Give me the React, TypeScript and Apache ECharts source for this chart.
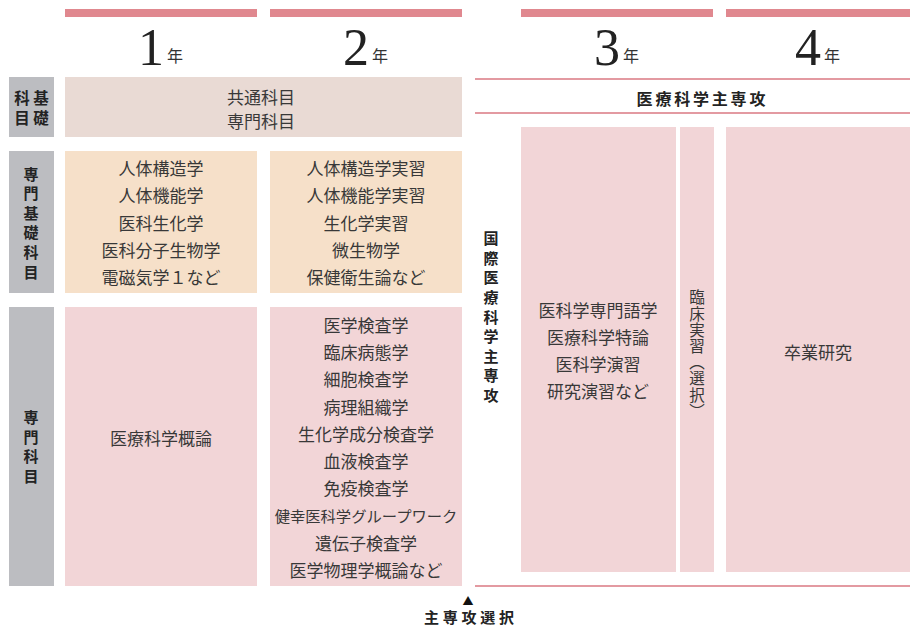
import React, { useEffect, useRef } from "react";
import * as echarts from "echarts";

// ---- data ----
const years = ["1", "2", "3", "4"];
const yearUnit = "年";
const basicLabelCols = ["基礎", "科目"]; // right column first (vertical, right-to-left)
const specBasicLabel = "専門基礎科目";
const specLabel = "専門科目";
const commonSubjects = ["共通科目", "専門科目"];
const specBasicY1 = ["人体構造学", "人体機能学", "医科生化学", "医科分子生物学", "電磁気学１など"];
const specBasicY2 = ["人体構造学実習", "人体機能学実習", "生化学実習", "微生物学", "保健衛生論など"];
const specY1 = ["医療科学概論"];
const specY2 = [
  "医学検査学",
  "臨床病態学",
  "細胞検査学",
  "病理組織学",
  "生化学成分検査学",
  "血液検査学",
  "免疫検査学",
  "健幸医科学グループワーク",
  "遺伝子検査学",
  "医学物理学概論など",
];
const majorTitle = "医療科学主専攻";
const majorSide = "国際医療科学主専攻";
const year3Subjects = ["医科学専門語学", "医療科学特論", "医科学演習", "研究演習など"];
const practiceLabel = ["臨", "床", "実", "習", "︵", "選", "択", "︶"];
const year4Subjects = ["卒業研究"];
const selectLabel = "主専攻選択";

const CJK = '"Noto Sans CJK JP", "Noto Sans", sans-serif';
const SERIF = '"Liberation Serif", "DejaVu Serif", serif';
const TEXT = "#383838";
const DARK = "#232323";
const PINK_BAR = "#e0888f";
const PINK_LINE = "#e39aa1";
const GREY = "#bcbdc1";
const BEIGE = "#e9dad4";
const PEACH = "#f6e0c9";
const ROSE = "#f2d5d7";

function rect(x: number, y: number, w: number, h: number, fill: string) {
  return { type: "rect", shape: { x, y, width: w, height: h }, style: { fill }, silent: true };
}

function text(
  t: string,
  x: number,
  y: number,
  opts: { size?: number; weight?: string; family?: string; fill?: string; lh?: number; align?: string } = {}
) {
  const align = opts.align || "center";
  return {
    type: "text",
    x,
    y,
    silent: true,
    style: {
      text: t,
      fill: opts.fill || TEXT,
      fontSize: opts.size || 15,
      fontWeight: opts.weight || "normal",
      fontFamily: opts.family || CJK,
      lineHeight: opts.lh,
      align,
      textAlign: align,
      verticalAlign: "middle",
      textVerticalAlign: "middle",
    },
  };
}

function hChars(t: string, cx: number, cy: number, step: number, size: number, weight = "bold", fill = DARK) {
  const chars = Array.from(t);
  const start = cx - ((chars.length - 1) * step) / 2;
  return chars.map((c, i) => text(c, start + i * step, cy, { size, weight, fill }));
}

// vertical text as one multi-line text element
function vText(chars: string[], cx: number, cy: number, step: number, size: number, weight = "bold", fill = DARK) {
  return text(chars.join("\n"), cx, cy, { size, weight, fill, lh: step });
}

// one text per line, shrinking a line that would not fit the cell width
function lines(arr: string[], cx: number, cy: number, lh: number, maxW: number, size = 17) {
  const start = cy - ((arr.length - 1) * lh) / 2;
  return arr.map((s, i) => {
    const n = Array.from(s).length;
    const fs = Math.min(size, Math.floor((maxW / n) * 10) / 10);
    return text(s, cx, start + i * lh, { size: fs });
  });
}

export default function App() {
  const ref = useRef<HTMLDivElement>(null);
  useEffect(() => {
    if (!ref.current) return;
    const chart = echarts.init(ref.current, undefined, { renderer: "svg" });

    const colX = [
      [65, 257],
      [270, 462],
      [521, 713],
      [726, 910],
    ];
    const els: any[] = [];

    // top bars & year headings
    colX.forEach(([a, b], i) => {
      els.push(rect(a, 9, b - a, 8, PINK_BAR));
      const cx = (a + b) / 2;
      els.push(text(years[i], cx + 3, 47, { size: 52, family: SERIF, fill: "#222", align: "right" }));
      els.push(text(yearUnit, cx + 6, 55, { size: 16, fill: "#333", align: "left" }));
    });

    // left labels
    els.push(rect(9, 77, 45, 60, GREY));
    els.push(vText(Array.from(basicLabelCols[0]), 41, 107, 20, 15.5));
    els.push(vText(Array.from(basicLabelCols[1]), 22, 107, 20, 15.5));
    els.push(rect(9, 151, 45, 142, GREY));
    els.push(vText(Array.from(specBasicLabel), 31, 222, 19.6, 15));
    els.push(rect(9, 307, 45, 279, GREY));
    els.push(vText(Array.from(specLabel), 31, 446, 19.6, 15));

    // basic subjects row
    els.push(rect(65, 77, 397, 60, BEIGE));
    els.push(...lines(commonSubjects, 261, 108, 24, 380));

    // specialized basic row
    els.push(rect(65, 151, 192, 142, PEACH));
    els.push(rect(270, 151, 192, 142, PEACH));
    els.push(...lines(specBasicY1, 161, 222, 27.3, 184));
    els.push(...lines(specBasicY2, 366, 222, 27.3, 184));

    // specialized row
    els.push(rect(65, 307, 192, 279, ROSE));
    els.push(rect(270, 307, 192, 279, ROSE));
    els.push(...lines(specY1, 161, 437, 27.3, 184));
    els.push(...lines(specY2, 366, 447, 27.3, 184));

    // major section (years 3-4)
    els.push(rect(475, 78, 435, 2, PINK_LINE));
    els.push(rect(475, 112, 435, 2, PINK_LINE));
    els.push(...hChars(majorTitle, 701, 98, 18.8, 16));
    els.push(rect(521, 127, 155, 445, ROSE));
    els.push(rect(680, 127, 34, 445, ROSE));
    els.push(rect(726, 127, 184, 445, ROSE));
    els.push(...lines(year3Subjects, 598, 350, 26.7, 150));
    els.push(...lines(year4Subjects, 818, 351, 27, 180));
    els.push(vText(practiceLabel, 697, 353, 16.2, 15.5, "normal", TEXT));
    els.push(vText(Array.from(majorSide), 491, 316, 19.6, 15));
    els.push(rect(475, 585, 435, 2, PINK_LINE));

    // major selection marker
    els.push(text("▲", 468, 600, { size: 11, fill: "#111" }));
    els.push(...hChars(selectLabel, 469, 616, 18.8, 15));

    chart.setOption({
      animation: false,
      backgroundColor: "#ffffff",
      graphic: { elements: els },
    });
    return () => chart.dispose();
  }, []);

  return (
    <div
      ref={ref}
      style={{ position: "fixed", left: 0, top: 0, width: 910, height: 626, background: "#fff" }}
    />
  );
}
